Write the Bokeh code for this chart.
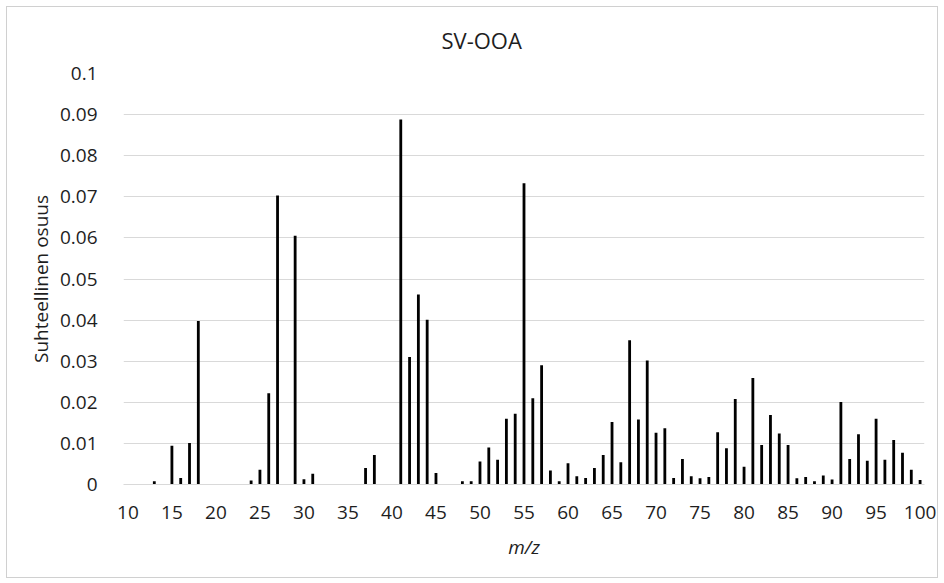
from bokeh.plotting import figure
from bokeh.models import FixedTicker, Range1d, ColumnDataSource
from bokeh.embed import file_html
from bokeh.resources import INLINE

title_text = "SV-OOA"
x_label = "m/z"
y_label = "Suhteellinen osuus"

mz = list(range(10, 101))
share = [
    0, 0, 0, 0.0008, 0, 0.0094, 0.0016, 0.0101, 0.0398, 0,          # 10-19
    0, 0, 0, 0, 0.0010, 0.0036, 0.0222, 0.0703, 0, 0.0605,          # 20-29
    0.0013, 0.0026, 0, 0, 0, 0, 0, 0.0040, 0.0072, 0,               # 30-39
    0, 0.0888, 0.0310, 0.0462, 0.0401, 0.0028, 0, 0, 0.0008, 0.0008,  # 40-49
    0.0056, 0.0090, 0.0060, 0.0160, 0.0172, 0.0733, 0.0210, 0.0290, 0.0034, 0.0008,  # 50-59
    0.0052, 0.0020, 0.0016, 0.0040, 0.0072, 0.0152, 0.0054, 0.0351, 0.0158, 0.0302,  # 60-69
    0.0126, 0.0137, 0.0016, 0.0062, 0.0020, 0.0015, 0.0018, 0.0127, 0.0088, 0.0208,  # 70-79
    0.0043, 0.0259, 0.0096, 0.0169, 0.0124, 0.0096, 0.0015, 0.0018, 0.0008, 0.0022,  # 80-89
    0.0012, 0.0201, 0.0062, 0.0122, 0.0058, 0.0160, 0.0060, 0.0108, 0.0077, 0.0036,  # 90-99
    0.0011,                                                          # 100
]

x_ticks = [10, 15, 20, 25, 30, 35, 40, 45, 50, 55, 60, 65, 70, 75, 80, 85, 90, 95, 100]
y_ticks = [0, 0.01, 0.02, 0.03, 0.04, 0.05, 0.06, 0.07, 0.08, 0.09, 0.1]
y_tick_labels = ["0", "0.01", "0.02", "0.03", "0.04", "0.05", "0.06", "0.07", "0.08", "0.09", "0.1"]

FONT = "Open Sans"
TXT = "#1e1e1e"
GRID = "#d9d9d9"

p = figure(
    width=932, height=572,
    output_backend="svg", toolbar_location=None,
    x_range=Range1d(9.5, 100.5), y_range=Range1d(0, 0.1),
    min_border_left=116, min_border_right=15,
    min_border_top=66, min_border_bottom=95,
    title=title_text,
)
p.margin = (6, 0, 0, 6)
p.styles = {"border": "1px solid #d0d0d0"}
p.outline_line_color = None
p.background_fill_color = "white"
p.border_fill_color = "white"

src = ColumnDataSource(dict(mz=mz, share=share))
p.vbar(x="mz", top="share", width=0.32, bottom=0, source=src,
       fill_color="black", line_color=None)

# title
p.title.text_font = FONT
p.title.text_font_size = "22px"
p.title.text_font_style = "normal"
p.title.text_color = TXT
p.title.align = "left"
p.title.offset = 318
p.title.vertical_align = "top"
p.title.standoff = 34

# axes
p.xaxis.ticker = FixedTicker(ticks=x_ticks)
p.yaxis.ticker = FixedTicker(ticks=y_ticks)
p.yaxis.major_label_overrides = {t: l for t, l in zip(y_ticks, y_tick_labels)}

for ax in (p.xaxis, p.yaxis):
    ax.major_tick_line_color = None
    ax.minor_tick_line_color = None
    ax.major_label_text_font = FONT
    ax.major_label_text_font_size = "19px"
    ax.major_label_text_color = TXT
    ax.axis_label_text_font = FONT
    ax.axis_label_text_font_size = "19px"
    ax.axis_label_text_color = TXT

p.xaxis.axis_line_color = GRID
p.yaxis.axis_line_color = None
p.xaxis.major_label_standoff = 15
p.yaxis.major_label_standoff = 20
p.xaxis.axis_label = x_label
p.xaxis.axis_label_text_font_style = "italic"
p.xaxis.axis_label_standoff = 12
p.yaxis.axis_label = y_label
p.yaxis.axis_label_text_font_style = "normal"
p.yaxis.axis_label_standoff = 3

p.xgrid.grid_line_color = None
p.ygrid.grid_line_color = GRID
p.ygrid.grid_line_width = 1

open("out.html", "w").write(file_html(p, INLINE))
